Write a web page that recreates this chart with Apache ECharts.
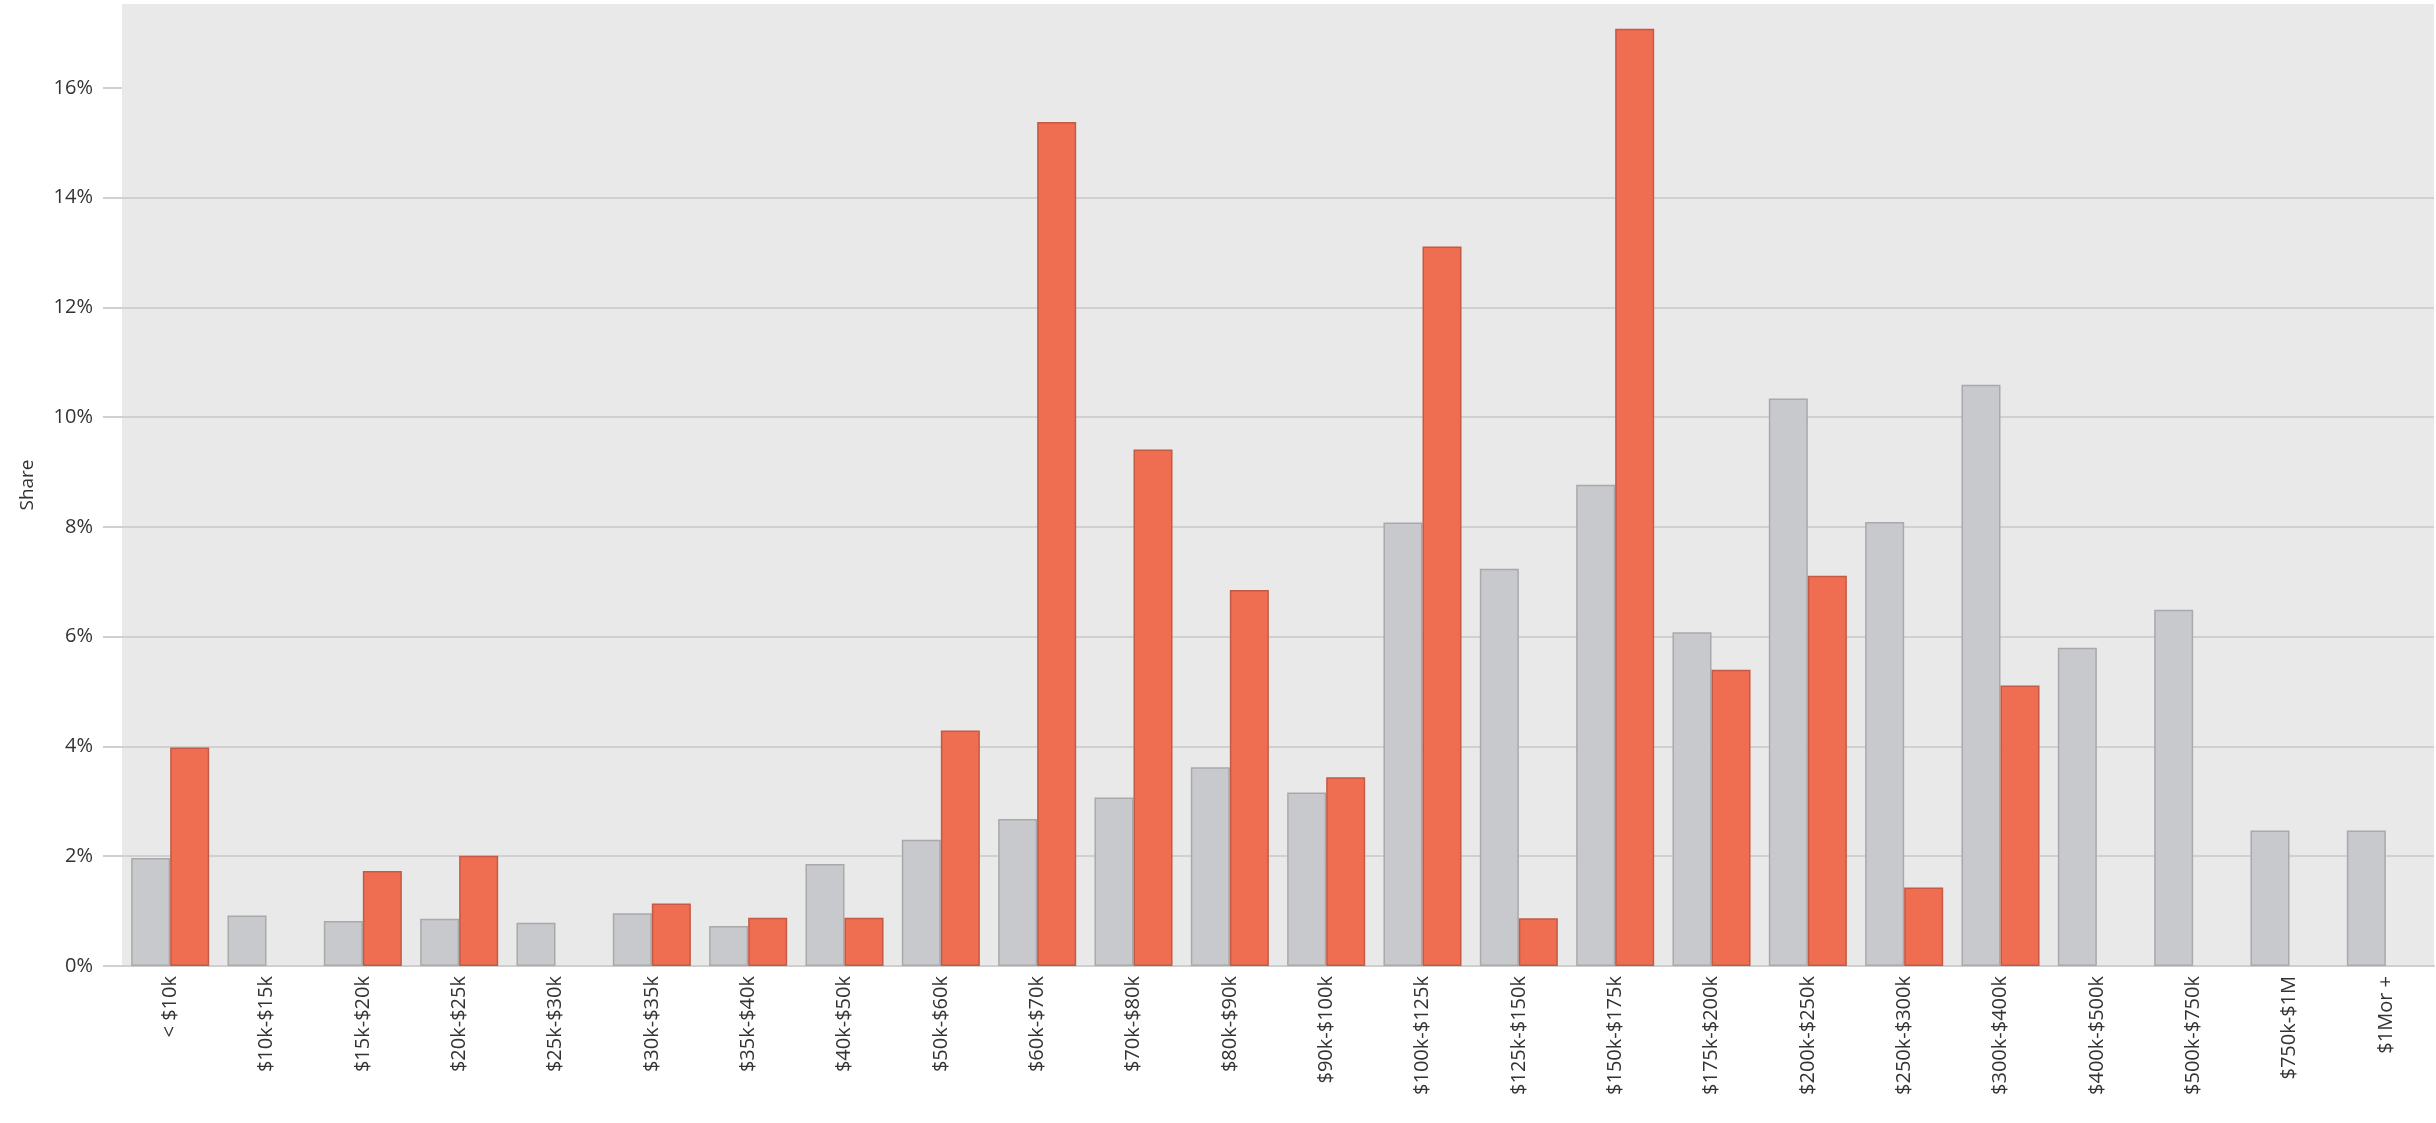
<!DOCTYPE html>
<html>
<head>
<meta charset="utf-8">
<script src="https://cdn.jsdelivr.net/npm/echarts@6/dist/echarts.min.js"></script>
<style>
html,body{margin:0;padding:0;background:#fff;}
#chart{width:2436px;height:1123px;}
</style>
</head>
<body>
<div id="chart"></div>
<script>
const categories = ['< $10k','$10k-$15k','$15k-$20k','$20k-$25k','$25k-$30k','$30k-$35k','$35k-$40k','$40k-$50k','$50k-$60k','$60k-$70k','$70k-$80k','$80k-$90k','$90k-$100k','$100k-$125k','$125k-$150k','$150k-$175k','$175k-$200k','$200k-$250k','$250k-$300k','$300k-$400k','$400k-$500k','$500k-$750k','$750k-$1M','$1Mor +'];
const grayShare = [1.97, 0.92, 0.82, 0.86, 0.79, 0.96, 0.73, 1.86, 2.30, 2.68, 3.07, 3.62, 3.16, 8.08, 7.24, 8.77, 6.08, 10.34, 8.09, 10.59, 5.80, 6.49, 2.47, 2.47];
const orangeShare = [3.98, null, 1.73, 2.01, null, 1.14, 0.88, 0.88, 4.29, 15.38, 9.41, 6.85, 3.44, 13.11, 0.87, 17.08, 5.40, 7.11, 1.43, 5.11, null, null, null, null];
const yTicks = [0, 2, 4, 6, 8, 10, 12, 14, 16];

const chart = echarts.init(document.getElementById('chart'));
const font = '"Open Sans", "Noto Sans", sans-serif';
chart.setOption({
  animation: false,
  grid: {
    left: 122, right: 2, top: 4, bottom: 157,
    show: true, backgroundColor: '#e9e9e9', borderWidth: 0
  },
  xAxis: {
    type: 'category',
    data: categories,
    axisLine: { show: true, lineStyle: { color: '#cfcfcf', width: 2 } },
    axisTick: { show: false },
    axisLabel: {
      rotate: 90, interval: 0, margin: 10,
      fontSize: 20, color: '#333', fontFamily: font
    }
  },
  yAxis: {
    type: 'value',
    min: 0, max: 17.53, interval: 2,
    name: 'Share',
    nameLocation: 'middle',
    nameRotate: 90,
    nameGap: 85,
    nameTextStyle: { fontSize: 19, color: '#333', fontFamily: font },
    axisLine: { show: false },
    axisTick: { show: true, length: 19, customValues: yTicks, lineStyle: { color: '#d0d0d0', width: 2 } },
    axisLabel: {
      customValues: yTicks,
      margin: 29,
      fontSize: 20, color: '#333', fontFamily: font,
      formatter: v => v + '%'
    },
    splitLine: { show: true, showMaxLine: false, lineStyle: { color: '#d0d0d0', width: 2 } }
  },
  series: [
    {
      name: 'Gray',
      type: 'bar',
      data: grayShare,
      barGap: '0%',
      barCategoryGap: '19%',
      itemStyle: { color: '#c8c9cc', borderColor: '#a9a9ac', borderWidth: 1.5 }
    },
    {
      name: 'Orange',
      type: 'bar',
      data: orangeShare,
      barGap: '0%',
      barCategoryGap: '19%',
      itemStyle: { color: '#ef6e52', borderColor: '#c45a44', borderWidth: 1.5 }
    }
  ]
});
</script>
</body>
</html>
